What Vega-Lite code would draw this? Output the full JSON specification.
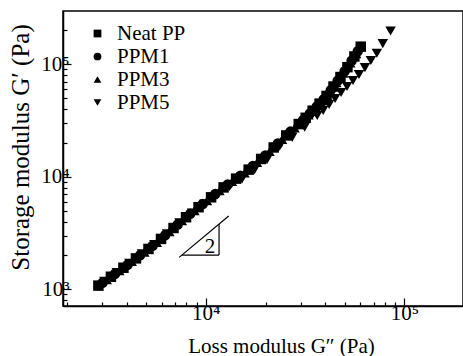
{
  "$schema": "https://vega.github.io/schema/vega-lite/v6.json",
  "width": 400,
  "height": 295,
  "autosize": {"type": "none"},
  "padding": {"left": 63, "top": 11, "right": 0, "bottom": 50},
  "config": {
    "font": "'Liberation Serif', 'Times New Roman', serif",
    "view": {"stroke": "black", "strokeWidth": 1.5},
    "axis": {"domainColor": "black", "domainWidth": 1.5, "tickColor": "black", "tickWidth": 1.2, "labelColor": "black", "titleColor": "black", "grid": false, "labelFont": "'Liberation Serif', 'Times New Roman', serif", "titleFont": "'Liberation Serif', 'Times New Roman', serif", "labelFontSize": 21, "titleFontSize": 21, "titleFontWeight": "normal"},
    "legend": {"labelFont": "'Liberation Serif', 'Times New Roman', serif", "labelFontSize": 21, "labelColor": "black"},
    "text": {"font": "'Liberation Serif', 'Times New Roman', serif"}
  },
  "datasets": {
    "pts": [
      {"s": "Neat PP", "gpp": 2884, "gp": 1079},
      {"s": "Neat PP", "gpp": 3334, "gp": 1294},
      {"s": "Neat PP", "gpp": 3855, "gp": 1556},
      {"s": "Neat PP", "gpp": 4457, "gp": 1884},
      {"s": "Neat PP", "gpp": 5152, "gp": 2286},
      {"s": "Neat PP", "gpp": 5957, "gp": 2807},
      {"s": "Neat PP", "gpp": 6887, "gp": 3508},
      {"s": "Neat PP", "gpp": 7962, "gp": 4375},
      {"s": "Neat PP", "gpp": 9204, "gp": 5370},
      {"s": "Neat PP", "gpp": 10641, "gp": 6577},
      {"s": "Neat PP", "gpp": 12303, "gp": 8054},
      {"s": "Neat PP", "gpp": 14223, "gp": 9638},
      {"s": "Neat PP", "gpp": 16444, "gp": 11588},
      {"s": "Neat PP", "gpp": 19011, "gp": 14421},
      {"s": "Neat PP", "gpp": 21979, "gp": 18243},
      {"s": "Neat PP", "gpp": 25410, "gp": 23335},
      {"s": "Neat PP", "gpp": 29376, "gp": 29436},
      {"s": "Neat PP", "gpp": 31842, "gp": 33497},
      {"s": "Neat PP", "gpp": 34514, "gp": 38726},
      {"s": "Neat PP", "gpp": 37411, "gp": 44774},
      {"s": "Neat PP", "gpp": 40551, "gp": 52360},
      {"s": "Neat PP", "gpp": 43954, "gp": 63533},
      {"s": "Neat PP", "gpp": 47643, "gp": 77090},
      {"s": "Neat PP", "gpp": 51642, "gp": 94406},
      {"s": "Neat PP", "gpp": 55976, "gp": 117490},
      {"s": "Neat PP", "gpp": 60256, "gp": 143549},
      {"s": "PPM1", "gpp": 3027, "gp": 1146},
      {"s": "PPM1", "gpp": 3499, "gp": 1377},
      {"s": "PPM1", "gpp": 4046, "gp": 1656},
      {"s": "PPM1", "gpp": 4677, "gp": 2009},
      {"s": "PPM1", "gpp": 5408, "gp": 2438},
      {"s": "PPM1", "gpp": 6252, "gp": 3027},
      {"s": "PPM1", "gpp": 7228, "gp": 3776},
      {"s": "PPM1", "gpp": 8356, "gp": 4688},
      {"s": "PPM1", "gpp": 9661, "gp": 5741},
      {"s": "PPM1", "gpp": 11169, "gp": 7031},
      {"s": "PPM1", "gpp": 12912, "gp": 8570},
      {"s": "PPM1", "gpp": 14928, "gp": 10209},
      {"s": "PPM1", "gpp": 17258, "gp": 12474},
      {"s": "PPM1", "gpp": 19953, "gp": 15488},
      {"s": "PPM1", "gpp": 23067, "gp": 19815},
      {"s": "PPM1", "gpp": 26669, "gp": 25235},
      {"s": "PPM1", "gpp": 30832, "gp": 31769},
      {"s": "PPM1", "gpp": 33420, "gp": 36559},
      {"s": "PPM1", "gpp": 36224, "gp": 42267},
      {"s": "PPM1", "gpp": 39264, "gp": 48865},
      {"s": "PPM1", "gpp": 42560, "gp": 58884},
      {"s": "PPM1", "gpp": 46132, "gp": 71450},
      {"s": "PPM1", "gpp": 50003, "gp": 86696},
      {"s": "PPM1", "gpp": 54200, "gp": 107647},
      {"s": "PPM1", "gpp": 58210, "gp": 130620},
      {"s": "PPM3", "gpp": 3177, "gp": 1219},
      {"s": "PPM3", "gpp": 3673, "gp": 1466},
      {"s": "PPM3", "gpp": 4246, "gp": 1766},
      {"s": "PPM3", "gpp": 4909, "gp": 2143},
      {"s": "PPM3", "gpp": 5675, "gp": 2606},
      {"s": "PPM3", "gpp": 6561, "gp": 3258},
      {"s": "PPM3", "gpp": 7586, "gp": 4064},
      {"s": "PPM3", "gpp": 8770, "gp": 5012},
      {"s": "PPM3", "gpp": 10139, "gp": 6138},
      {"s": "PPM3", "gpp": 11722, "gp": 7534},
      {"s": "PPM3", "gpp": 13552, "gp": 9078},
      {"s": "PPM3", "gpp": 15668, "gp": 10814},
      {"s": "PPM3", "gpp": 18113, "gp": 13397},
      {"s": "PPM3", "gpp": 20941, "gp": 16827},
      {"s": "PPM3", "gpp": 24210, "gp": 21528},
      {"s": "PPM3", "gpp": 27990, "gp": 27227},
      {"s": "PPM3", "gpp": 30339, "gp": 30974},
      {"s": "PPM3", "gpp": 32885, "gp": 35563},
      {"s": "PPM3", "gpp": 35645, "gp": 41115},
      {"s": "PPM3", "gpp": 38637, "gp": 47533},
      {"s": "PPM3", "gpp": 41879, "gp": 56624},
      {"s": "PPM3", "gpp": 45394, "gp": 68707},
      {"s": "PPM3", "gpp": 49204, "gp": 83368},
      {"s": "PPM3", "gpp": 53333, "gp": 103039},
      {"s": "PPM3", "gpp": 57148, "gp": 124165},
      {"s": "PPM5", "gpp": 3090, "gp": 1178},
      {"s": "PPM5", "gpp": 3573, "gp": 1413},
      {"s": "PPM5", "gpp": 4130, "gp": 1702},
      {"s": "PPM5", "gpp": 4775, "gp": 2065},
      {"s": "PPM5", "gpp": 5521, "gp": 2506},
      {"s": "PPM5", "gpp": 6383, "gp": 3119},
      {"s": "PPM5", "gpp": 7379, "gp": 3899},
      {"s": "PPM5", "gpp": 8531, "gp": 4775},
      {"s": "PPM5", "gpp": 9863, "gp": 5741},
      {"s": "PPM5", "gpp": 11402, "gp": 6902},
      {"s": "PPM5", "gpp": 13183, "gp": 8222},
      {"s": "PPM5", "gpp": 15241, "gp": 9594},
      {"s": "PPM5", "gpp": 17620, "gp": 11588},
      {"s": "PPM5", "gpp": 20370, "gp": 14256},
      {"s": "PPM5", "gpp": 23550, "gp": 18707},
      {"s": "PPM5", "gpp": 27227, "gp": 22439},
      {"s": "PPM5", "gpp": 31477, "gp": 27669},
      {"s": "PPM5", "gpp": 36392, "gp": 35075},
      {"s": "PPM5", "gpp": 38994, "gp": 38994},
      {"s": "PPM5", "gpp": 41783, "gp": 44055},
      {"s": "PPM5", "gpp": 44771, "gp": 49774},
      {"s": "PPM5", "gpp": 47973, "gp": 56234},
      {"s": "PPM5", "gpp": 51404, "gp": 63533},
      {"s": "PPM5", "gpp": 55081, "gp": 71779},
      {"s": "PPM5", "gpp": 59020, "gp": 81283},
      {"s": "PPM5", "gpp": 63241, "gp": 93541},
      {"s": "PPM5", "gpp": 67764, "gp": 108143},
      {"s": "PPM5", "gpp": 72611, "gp": 125314},
      {"s": "PPM5", "gpp": 77804, "gp": 152757},
      {"s": "PPM5", "gpp": 85114, "gp": 197697}
    ],
    "lines": [
      {"x": 7350, "y": 1925, "x2": 13050, "y2": 4490},
      {"x": 7600, "y": 2018, "x2": 11670, "y2": 2018},
      {"x": 11670, "y": 2018, "x2": 11670, "y2": 3800}
    ],
    "labels": [
      {"x": 10500, "y": 2393, "t": "2"}
    ]
  },
  "layer": [
    {
      "data": {"name": "pts"},
      "mark": {"type": "point", "filled": true, "color": "black", "opacity": 1, "size": 110},
      "encoding": {
        "x": {
          "field": "gpp", "type": "quantitative",
          "scale": {"type": "log", "domain": [1914, 197000], "nice": false},
          "axis": {
            "title": "Loss modulus G″  (Pa)",
            "values": [2000, 3000, 4000, 5000, 6000, 7000, 8000, 9000, 10000, 20000, 30000, 40000, 50000, 60000, 70000, 80000, 90000, 100000],
            "labelExpr": "datum.value == 10000 ? '10⁴' : datum.value == 100000 ? '10⁵' : ''",
            "tickSize": {"condition": {"test": "datum.value == 10000 || datum.value == 100000", "value": -8}, "value": -4},
            "labelPadding": 4,
            "labelFlush": false,
            "labelOverlap": false,
            "titleX": 218,
            "titleY": 40,
            "titleBaseline": "middle"
          }
        },
        "y": {
          "field": "gp", "type": "quantitative",
          "scale": {"type": "log", "domain": [711, 298000], "nice": false},
          "axis": {
            "title": "Storage modulus G′  (Pa)",
            "titleFontSize": 25,
            "values": [800, 900, 1000, 2000, 3000, 4000, 5000, 6000, 7000, 8000, 9000, 10000, 20000, 30000, 40000, 50000, 60000, 70000, 80000, 90000, 100000, 200000],
            "labelExpr": "datum.value == 1000 ? '10³' : datum.value == 10000 ? '10⁴' : datum.value == 100000 ? '10⁵' : ''",
            "tickSize": {"condition": {"test": "datum.value == 1000 || datum.value == 10000 || datum.value == 100000", "value": -8}, "value": -4},
            "labelPadding": 2,
            "labelFlush": false,
            "labelOverlap": false,
            "titleX": -43,
            "titleY": 136,
            "titleAngle": -90,
            "titleBaseline": "middle",
            "titleAlign": "center"
          }
        },
        "shape": {
          "field": "s", "type": "nominal",
          "scale": {"domain": ["Neat PP", "PPM1", "PPM3", "PPM5"], "range": ["square", "circle", "triangle-up", "triangle-down"]},
          "legend": {"title": null, "orient": "none", "legendX": 24, "legendY": 12, "padding": 0, "symbolSize": 60, "symbolFillColor": "black", "symbolStrokeColor": "black", "labelOffset": 9, "rowPadding": 1}
        }
      }
    },
    {
      "data": {"name": "lines"},
      "mark": {"type": "rule", "color": "black", "strokeWidth": 1.2},
      "encoding": {
        "x": {"field": "x", "type": "quantitative"},
        "y": {"field": "y", "type": "quantitative"},
        "x2": {"field": "x2"},
        "y2": {"field": "y2"}
      }
    },
    {
      "data": {"name": "labels"},
      "mark": {"type": "text", "fontSize": 21, "color": "black", "baseline": "middle", "align": "center"},
      "encoding": {
        "x": {"field": "x", "type": "quantitative"},
        "y": {"field": "y", "type": "quantitative"},
        "text": {"field": "t"}
      }
    }
  ]
}
